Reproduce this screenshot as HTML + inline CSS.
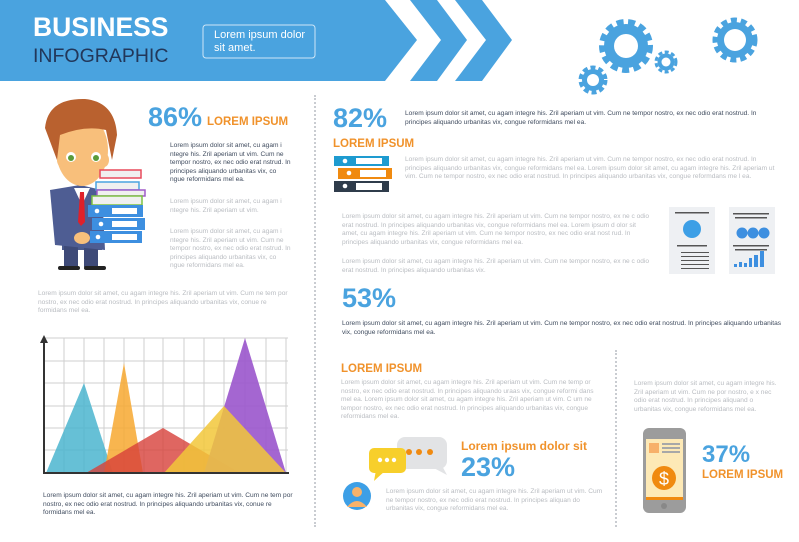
<!DOCTYPE html>
<html><head><meta charset="utf-8"><style>
*{margin:0;padding:0;box-sizing:border-box}
body{width:799px;height:542px;background:#fff;position:relative;overflow:hidden;font-family:"Liberation Sans",sans-serif}
.a{position:absolute}
.t{position:absolute;font-size:6.6px;line-height:8.6px;color:#3f4b5e}
.g{color:#b9bcc1}
.big{position:absolute;color:#4aa3df;font-weight:bold;font-size:27px;line-height:27px}
.or{position:absolute;color:#f0922b;font-weight:bold;font-size:11.5px;line-height:12px}
.dot{position:absolute;border-left:2px dotted #c9ccd1;width:0}
</style></head><body>
<svg class="a" style="left:0;top:0" width="799" height="542">
<polygon points="0,0 385,0 417,40 385,81 0,81" fill="#4aa3df"/>
<polygon points="410,0 437,0 467,40 437,81 410,81 441,40" fill="#4aa3df"/>
<polygon points="455,0 482,0 512,40 482,81 455,81 486,40" fill="#4aa3df"/>
<g fill="#4aa3df">
<circle cx="626" cy="46" r="22"/><g stroke="#4aa3df" stroke-width="6" stroke-dasharray="7 4.5"><circle cx="626" cy="46" r="24" fill="none"/></g>
<circle cx="593" cy="80" r="11"/><g stroke="#4aa3df" stroke-width="4" stroke-dasharray="5 3"><circle cx="593" cy="80" r="12.5" fill="none"/></g>
<circle cx="666" cy="62" r="8.5"/><g stroke="#4aa3df" stroke-width="3" stroke-dasharray="4 2.5"><circle cx="666" cy="62" r="10" fill="none"/></g>
<circle cx="735" cy="40" r="18"/><g stroke="#4aa3df" stroke-width="5" stroke-dasharray="6 4"><circle cx="735" cy="40" r="20" fill="none"/></g>
</g>
<g fill="#fff"><circle cx="626" cy="46" r="12"/><circle cx="593" cy="80" r="6"/><circle cx="666" cy="62" r="4.5"/><circle cx="735" cy="40" r="11"/></g>
<rect x="203" y="25" width="112" height="33" rx="3" fill="none" stroke="#cfe6f7" stroke-width="1"/>
<g>
<rect x="62" y="190" width="40" height="60" fill="#4b5a8c"/>
<rect x="64" y="245" width="14" height="22" fill="#3e4a78"/><rect x="84" y="245" width="14" height="22" fill="#3e4a78"/>
<rect x="58" y="266" width="22" height="4" rx="2" fill="#222"/><rect x="84" y="266" width="22" height="4" rx="2" fill="#222"/>
<polygon points="50,190 80,185 102,190 105,250 55,245" fill="#4e5d93"/>
<polygon points="74,188 90,188 82,205" fill="#fff"/>
<polygon points="80,192 84,192 85,222 81,226 78,222" fill="#e0202a"/>
<ellipse cx="82" cy="150" rx="26" ry="36" fill="#f8bf7b"/>
<ellipse cx="62" cy="160" rx="5" ry="7" fill="#f8bf7b"/><ellipse cx="104" cy="160" rx="5" ry="7" fill="#f8bf7b"/>
<path d="M45,128 Q48,98 85,99 Q115,102 117,135 L112,160 L106,130 Q85,125 60,135 L57,160 Z" fill="#b9612f"/>
<circle cx="71" cy="157" r="5" fill="#fff"/><circle cx="71" cy="158" r="3" fill="#5b9b3a"/>
<circle cx="96" cy="157" r="5" fill="#fff"/><circle cx="96" cy="158" r="3" fill="#5b9b3a"/>
<rect x="100" y="170" width="41" height="8" fill="#f0f0f0" stroke="#e94a5c" stroke-width="1.5"/>
<rect x="96" y="182" width="43" height="8" fill="#f0f0f0" stroke="#4aa3df" stroke-width="1.5"/>
<rect x="97" y="190" width="48" height="6" fill="#f0f0f0" stroke="#a05bc9" stroke-width="1.5"/>
<rect x="92" y="196" width="50" height="9" fill="#f0f0f0" stroke="#7dc242" stroke-width="1.5"/>
<rect x="88" y="205" width="55" height="12" fill="#3d8fe0"/><rect x="112" y="208" width="25" height="6" fill="#fff"/>
<rect x="92" y="218" width="53" height="12" fill="#3d8fe0"/><rect x="112" y="221" width="25" height="6" fill="#fff"/>
<rect x="90" y="231" width="52" height="12" fill="#3d8fe0"/><rect x="112" y="234" width="25" height="6" fill="#fff"/>
<circle cx="97" cy="211" r="2.3" fill="#fff"/><circle cx="101" cy="224" r="2.3" fill="#fff"/><circle cx="98" cy="237" r="2.3" fill="#fff"/>
<ellipse cx="82" cy="238" rx="8" ry="6" fill="#f8bf7b"/>
</g>
<rect x="334" y="156" width="55" height="10" fill="#1e9bd0"/><rect x="356" y="158" width="26" height="6" fill="#fff"/><circle cx="345" cy="161" r="2.3" fill="#fff"/>
<rect x="338" y="168" width="54" height="11" fill="#f08a10"/><rect x="360" y="170" width="26" height="7" fill="#fff"/><circle cx="349" cy="173" r="2.3" fill="#fff"/>
<rect x="334" y="181" width="55" height="11" fill="#2f3c4b"/><rect x="356" y="183" width="26" height="7" fill="#fff"/><circle cx="345" cy="186" r="2.3" fill="#fff"/>
<rect x="669" y="207" width="46" height="67" fill="#eef0f3"/>
<rect x="729" y="207" width="46" height="67" fill="#eef0f3"/>
<g fill="#555"><rect x="675" y="212" width="34" height="1.5"/><rect x="677" y="245" width="30" height="1.5"/><rect x="681" y="252" width="28" height="1"/><rect x="681" y="256" width="28" height="1"/><rect x="681" y="260" width="28" height="1"/><rect x="681" y="264" width="28" height="1"/><rect x="681" y="268" width="28" height="1"/>
<rect x="733" y="213" width="36" height="1.5"/><rect x="735" y="217" width="32" height="1.5"/><rect x="733" y="245" width="36" height="1.5"/><rect x="735" y="249" width="32" height="1.5"/></g>
<circle cx="692" cy="229" r="9" fill="#3d9fe6"/>
<circle cx="742" cy="233" r="5.5" fill="#3d8fe0"/><circle cx="753" cy="233" r="5.5" fill="#3d8fe0"/><circle cx="764" cy="233" r="5.5" fill="#3d8fe0"/>
<g fill="#3d8fe0"><rect x="734" y="264" width="3" height="3"/><rect x="739" y="262" width="3" height="5"/><rect x="744" y="263" width="3" height="4"/><rect x="749" y="258" width="3" height="9"/><rect x="754" y="255" width="4" height="12"/><rect x="760" y="251" width="4" height="16"/></g>
<rect x="397" y="437" width="50" height="32" rx="8" fill="#e2e3e5"/>
<polygon points="430,466 447,475 440,462" fill="#e2e3e5"/>
<circle cx="409" cy="452" r="3" fill="#f08a10"/><circle cx="419" cy="452" r="3" fill="#f08a10"/><circle cx="430" cy="452" r="3" fill="#f08a10"/>
<rect x="369" y="448" width="37" height="25" rx="5" fill="#f7cf2b"/>
<polygon points="376,470 374,481 386,470" fill="#f7cf2b"/>
<circle cx="380" cy="460" r="2.2" fill="#fff"/><circle cx="387" cy="460" r="2.2" fill="#fff"/><circle cx="394" cy="460" r="2.2" fill="#fff"/>
<circle cx="357" cy="496" r="14" fill="#3d9fe6"/>
<circle cx="357" cy="492" r="5" fill="#f8b26a"/><path d="M347,507 Q357,495 367,507 Z" fill="#f8b26a"/>
<rect x="643" y="428" width="43" height="85" rx="6" fill="#9c9c9c"/>
<rect x="646" y="439" width="37" height="61" fill="#fde9b6"/>
<rect x="646" y="497" width="37" height="3" fill="#f08a10"/>
<rect x="649" y="443" width="10" height="10" fill="#f7b06a"/>
<rect x="662" y="443" width="18" height="2" fill="#a8a8a8"/><rect x="662" y="447" width="18" height="2" fill="#a8a8a8"/><rect x="662" y="451" width="18" height="2" fill="#a8a8a8"/>
<circle cx="664" cy="478" r="12" fill="#f08a10"/>
<text x="664" y="485" font-family="Liberation Sans" font-size="18" fill="#fff" text-anchor="middle">$</text>
<circle cx="664" cy="506" r="3" fill="#888"/>
<g stroke="#cfcfcf" stroke-width="1">
<line x1="64" y1="338" x2="64" y2="473"/><line x1="84" y1="338" x2="84" y2="473"/><line x1="104" y1="338" x2="104" y2="473"/><line x1="124" y1="338" x2="124" y2="473"/><line x1="144" y1="338" x2="144" y2="473"/><line x1="163" y1="338" x2="163" y2="473"/><line x1="184" y1="338" x2="184" y2="473"/><line x1="204" y1="338" x2="204" y2="473"/><line x1="224" y1="338" x2="224" y2="473"/><line x1="245" y1="338" x2="245" y2="473"/><line x1="266" y1="338" x2="266" y2="473"/><line x1="286" y1="338" x2="286" y2="473"/>
<line x1="44" y1="338" x2="288" y2="338"/><line x1="44" y1="361" x2="288" y2="361"/><line x1="44" y1="383" x2="288" y2="383"/><line x1="44" y1="406" x2="288" y2="406"/><line x1="44" y1="428" x2="288" y2="428"/><line x1="44" y1="450" x2="288" y2="450"/>
</g>
<polygon points="46,473 84,383 113,473" fill="#4bb5cf" fill-opacity=".85"/>
<polygon points="104,473 124,363 143,473" fill="#f7a830" fill-opacity=".85"/>
<polygon points="86,473 163,428 240,473" fill="#d7403a" fill-opacity=".8"/>
<polygon points="204,473 245,338 286,473" fill="#9a55cc" fill-opacity=".9"/>
<polygon points="164,473 224,406 286,473" fill="#f2c73a" fill-opacity=".85"/>
<line x1="44" y1="473" x2="289" y2="473" stroke="#333" stroke-width="2"/>
<line x1="44" y1="340" x2="44" y2="474" stroke="#333" stroke-width="2"/>
<polygon points="40,343 44,335 48,343" fill="#333"/>
</svg>

<div class="a" style="left:33px;top:13px;color:#fff;font-weight:bold;font-size:26.5px;line-height:28px">BUSINESS</div>
<div class="a" style="left:33px;top:46px;color:#22375a;font-size:19.5px;line-height:21px">INFOGRAPHIC</div>
<div class="a" style="left:214px;top:29px;color:#fff;font-size:11px;line-height:13px">Lorem ipsum dolor<br>sit amet.</div>

<div class="dot" style="left:314px;top:95px;height:432px"></div>
<div class="dot" style="left:615px;top:350px;height:177px"></div>

<div class="big" style="left:148px;top:104px">86%</div>
<div class="or" style="left:207px;top:116px">LOREM IPSUM</div>
<div class="t" style="left:170px;top:142px;width:122px">Lorem ipsum dolor sit amet, cu agam i ntegre his. Zril aperiam ut vim. Cum ne tempor nostro, ex nec odio erat nstrud. In principes aliquando urbanitas vix, co ngue reformidans mel ea.</div>
<div class="t g" style="left:170px;top:198px;width:122px">Lorem ipsum dolor sit amet, cu agam i ntegre his. Zril aperiam ut vim.</div>
<div class="t g" style="left:170px;top:228px;width:122px">Lorem ipsum dolor sit amet, cu agam i ntegre his. Zril aperiam ut vim. Cum ne tempor nostro, ex nec odio erat nstrud. In principes aliquando urbanitas vix, co ngue reformidans mel ea.</div>
<div class="t g" style="left:38px;top:290px;width:258px">Lorem ipsum dolor sit amet, cu agam integre his. Zril aperiam ut vim. Cum ne tem por nostro, ex nec odio erat nostrud. In principes aliquando urbanitas vix, conue re formidans mel ea.</div>
<div class="t" style="left:43px;top:492px;width:258px">Lorem ipsum dolor sit amet, cu agam integre his. Zril aperiam ut vim. Cum ne tem por nostro, ex nec odio erat nostrud. In principes aliquando urbanitas vix, conue re formidans mel ea.</div>

<div class="big" style="left:333px;top:105px">82%</div>
<div class="t" style="left:405px;top:110px;width:378px">Lorem ipsum dolor sit amet, cu agam integre his. Zril aperiam ut vim. Cum ne tempor nostro, ex nec odio erat nostrud. In principes aliquando urbanitas vix, congue reformidans mel ea.</div>
<div class="or" style="left:333px;top:138px">LOREM IPSUM</div>
<div class="t g" style="left:405px;top:156px;width:378px">Lorem ipsum dolor sit amet, cu agam integre his. Zril aperiam ut vim. Cum ne tempor nostro, ex nec odio erat nostrud. In principes aliquando urbanitas vix, congue reformidans mel ea. Lorem ipsum dolor sit amet, cu agam integre his. Zril aperiam ut vim. Cum ne tempor nostro, ex nec odio erat nostrud. In principes aliquando urbanitas vix, congue reformdans me l ea.</div>
<div class="t g" style="left:342px;top:213px;width:310px">Lorem ipsum dolor sit amet, cu agam integre his. Zril aperiam ut vim. Cum ne tempor nostro, ex ne c odio erat nostrud. In principes aliquando urbanitas vix, congue reformidans mel ea. Lorem ipsum d olor sit amet, cu agam integre his. Zril aperiam ut vim. Cum ne tempor nostro, ex nec odio erat nost rud. In principes aliquando urbanitas vix, congue reformidans mel ea.</div>
<div class="t g" style="left:342px;top:258px;width:310px">Lorem ipsum dolor sit amet, cu agam integre his. Zril aperiam ut vim. Cum ne tempor nostro, ex ne c odio erat nostrud. In principes aliquando urbanitas vix.</div>
<div class="big" style="left:342px;top:285px">53%</div>
<div class="t" style="left:342px;top:320px;width:440px">Lorem ipsum dolor sit amet, cu agam integre his. Zril aperiam ut vim. Cum ne tempor nostro, ex nec odio erat nostrud. In principes aliquando urbanitas vix, congue reformidans mel ea.</div>

<div class="or" style="left:341px;top:363px">LOREM IPSUM</div>
<div class="t g" style="left:341px;top:379px;width:262px">Lorem ipsum dolor sit amet, cu agam integre his. Zril aperiam ut vim. Cum ne temp or nostro, ex nec odio erat nostrud. In principes aliquando uraas vix, congue reformi dans mel ea. Lorem ipsum dolor sit amet, cu agam integre his. Zril aperiam ut vim. C um ne tempor nostro, ex nec odio erat nostrud. In principes aliquando urbanitas vix, congue reformidans mel ea.</div>
<div class="or" style="left:461px;top:440px;font-size:12px">Lorem ipsum dolor sit</div>
<div class="big" style="left:461px;top:454px">23%</div>
<div class="t g" style="left:386px;top:488px;width:218px">Lorem ipsum dolor sit amet, cu agam integre his. Zril aperiam ut vim. Cum ne tempor nostro, ex nec odio erat nostrud. In principes aliquan do urbanitas vix, congue reformidans mel ea.</div>
<div class="t g" style="left:634px;top:380px;width:145px">Lorem ipsum dolor sit amet, cu agam integre his. Zril aperiam ut vim. Cum ne por nostro, e x nec odio erat nostrud. In principes aliquand o urbanitas vix, congue reformidans mel ea.</div>
<div class="big" style="left:702px;top:441px;font-size:24px">37%</div>
<div class="or" style="left:702px;top:469px">LOREM IPSUM</div>
</body></html>
